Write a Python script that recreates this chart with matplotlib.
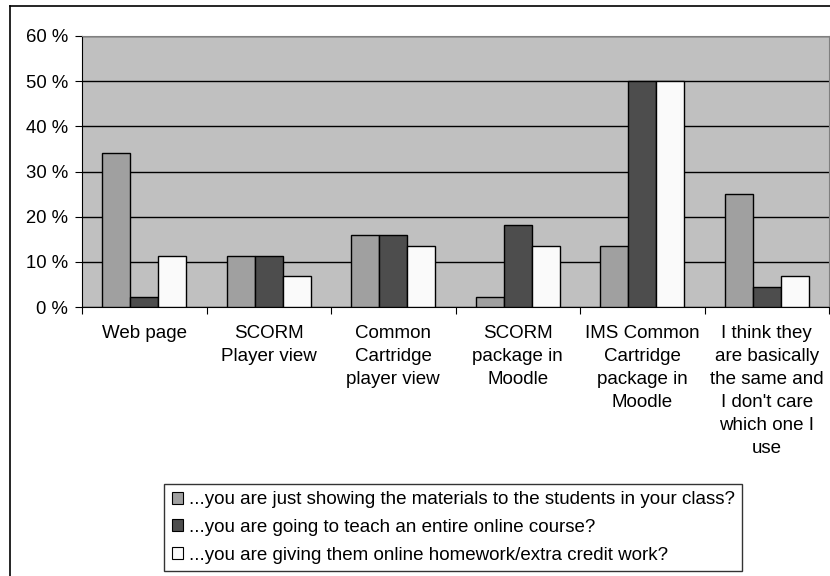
"""
Grouped bar chart - preferred format of course materials
"""

import numpy as np
import matplotlib.pyplot as plt
import matplotlib as mpl
from matplotlib.lines import Line2D

plt.rcParams['font.family'] = ['Liberation Sans', 'DejaVu Sans']

# categories and series (percent of respondents)
categories = ['Web page', 'SCORM\nPlayer view', 'Common\nCartridge\nplayer view',
              'SCORM\npackage in\nMoodle', 'IMS Common\nCartridge\npackage in\nMoodle',
              "I think they\nare basically\nthe same and\nI don't care\nwhich one I\nuse"]
series_names = ['...you are just showing the materials to the students in your class?',
                '...you are going to teach an entire online course?',
                '...you are giving them online homework/extra credit work?']
showing = [34.1, 11.4, 15.9, 2.3, 13.6, 25.0]
teaching = [2.3, 11.4, 15.9, 18.2, 50.0, 4.5]
homework = [11.4, 6.8, 13.6, 13.6, 50.0, 6.8]
yticks = [0, 10, 20, 30, 40, 50, 60]

colors = ['#a0a0a0', '#4d4d4d', '#fafafa']

fig = plt.figure(figsize=(8.3, 5.76), dpi=100)
ax = fig.add_axes([82/830, 1-307/576, 747/830, 271/576])
ax.set_facecolor('#c0c0c0')

x = np.arange(len(categories))
width = 0.225
for i, vals in enumerate([showing, teaching, homework]):
    ax.bar(x + (i-1)*width, vals, width=width, color=colors[i],
           edgecolor='black', linewidth=1.0, label=series_names[i], zorder=3)

ax.set_xlim(-0.5, len(categories)-0.5)
ax.set_ylim(0, 60)
ax.set_yticks(yticks)
ax.set_yticklabels([f'{t} %' for t in yticks], fontsize=13.3)
ax.yaxis.grid(True, color='black', linewidth=1.0, zorder=0)
ax.set_axisbelow(True)

# category boundary ticks, labels at centers
ax.set_xticks(np.arange(len(categories)+1)-0.5)
ax.set_xticklabels([])
ax.tick_params(axis='x', direction='out', length=5, color='black')
ax.tick_params(axis='y', direction='out', length=5, color='black', pad=5)
for xi, lab in zip(x, categories):
    ax.text(xi, -3.9, lab, ha='center', va='top', fontsize=13.5,
            linespacing=1.47, transform=ax.transData)

for s in ['top', 'right']:
    ax.spines[s].set_color('#808080')
ax.spines['left'].set_color('black')
ax.spines['bottom'].set_color('black')

# legend
handles = [mpl.patches.Patch(facecolor=c, edgecolor='black', linewidth=0.8) for c in colors]
leg = fig.legend(handles, series_names, loc='upper left',
                 bbox_to_anchor=(164/830, 1-484/576), fontsize=13.5,
                 handlelength=0.62, handleheight=0.62, handletextpad=0.3,
                 labelspacing=0.56, borderpad=0.4, borderaxespad=0,
                 fancybox=False, frameon=True)
leg.get_frame().set_edgecolor('black')
leg.get_frame().set_linewidth(1.0)

# outer chart border
fig.add_artist(Line2D([10/830, 10/830], [0, 1-6/576], color='black', linewidth=1.2))
fig.add_artist(Line2D([10/830, 1], [1-6/576, 1-6/576], color='black', linewidth=1.2))

fig.savefig('out.png', dpi=100)
